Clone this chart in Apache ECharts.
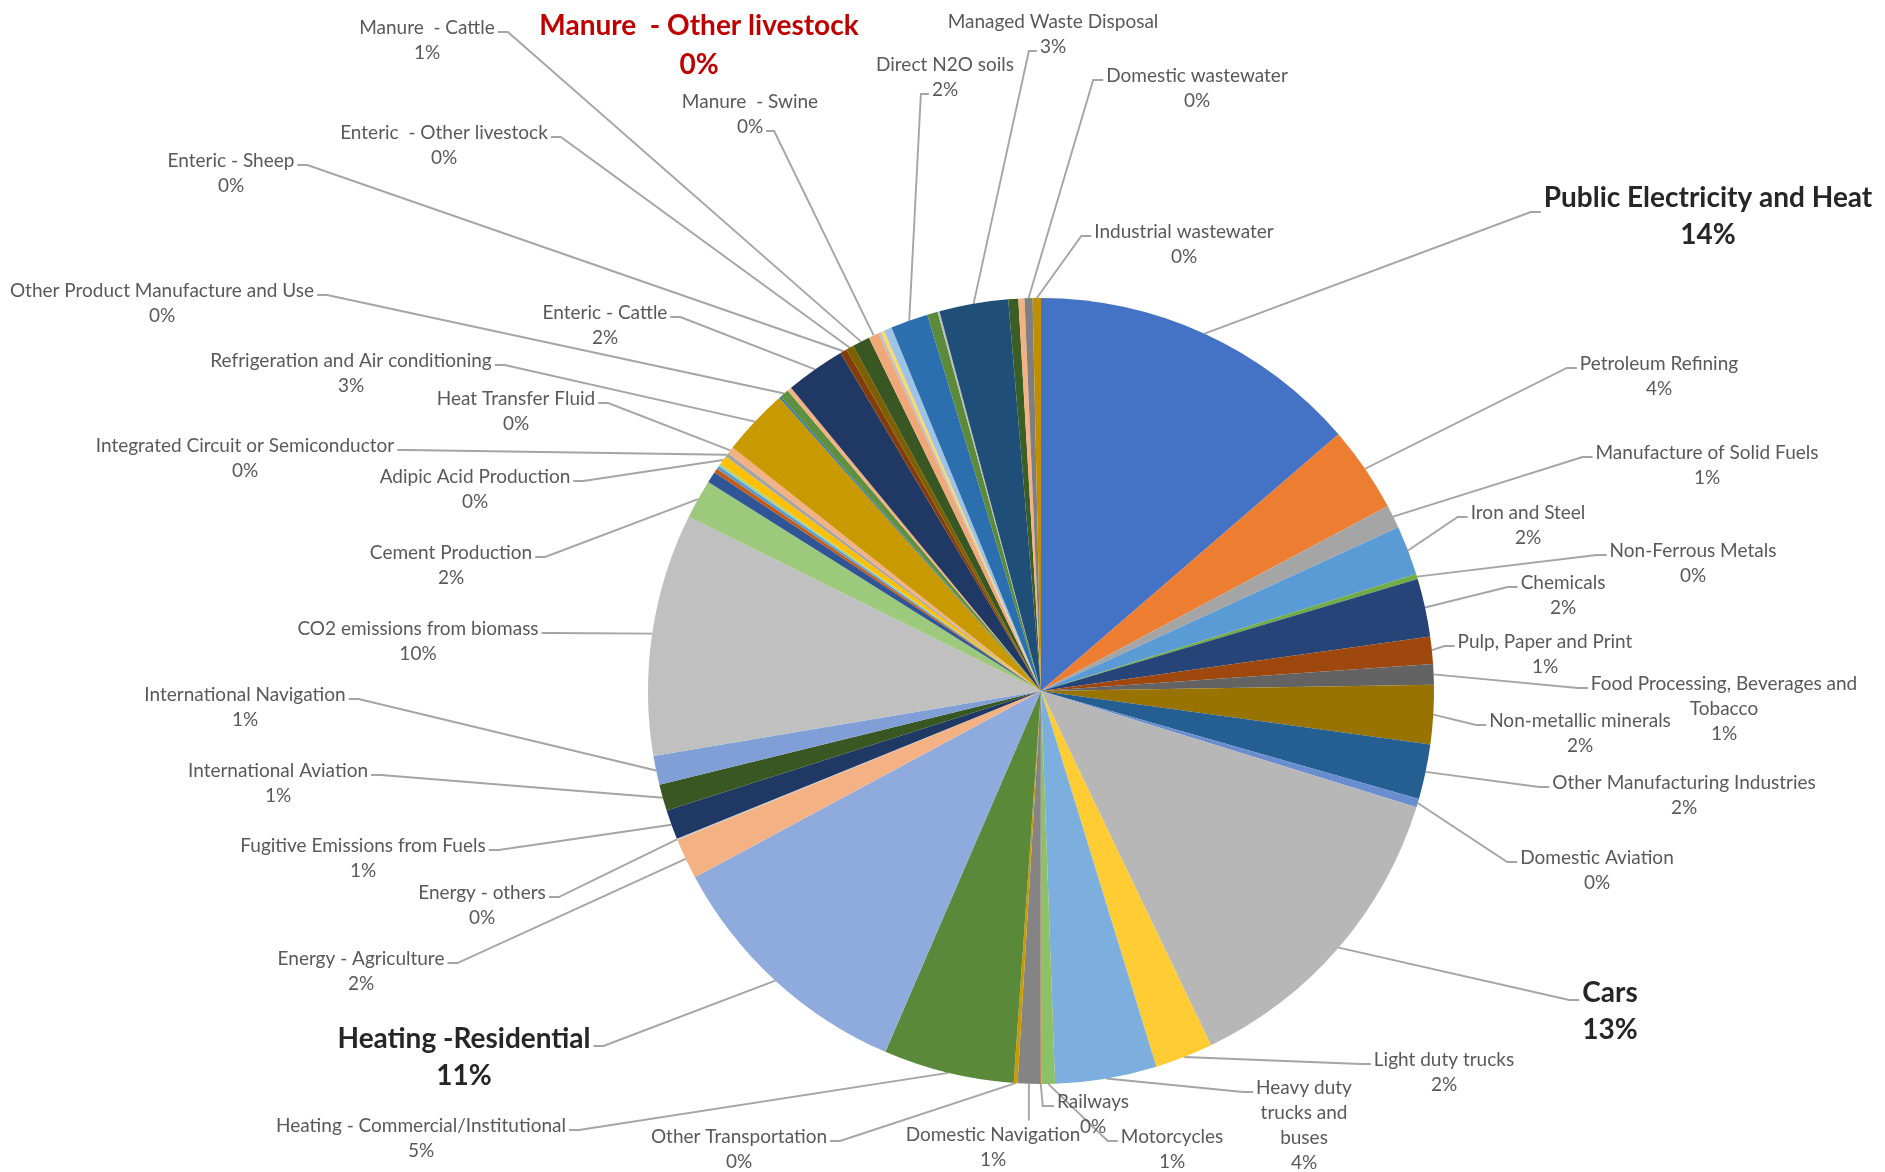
<!DOCTYPE html>
<html>
<head>
<meta charset="utf-8">
<script src="https://cdn.jsdelivr.net/npm/echarts@6/dist/echarts.min.js"></script>
<style>
  html, body { margin: 0; padding: 0; background: #ffffff; }
  #chart { width: 1885px; height: 1172px; }
</style>
</head>
<body>
<div id="chart"></div>
<script>
// Emission sources, clockwise from 12 o'clock. Empty names are small unlabeled slices.
const categories = [
  'Public Electricity and Heat', 'Petroleum Refining', 'Manufacture of Solid Fuels', 'Iron and Steel',
  'Non-Ferrous Metals', 'Chemicals', 'Pulp, Paper and Print', 'Food Processing, Beverages and Tobacco',
  'Non-metallic minerals', 'Other Manufacturing Industries', 'Domestic Aviation', 'Cars',
  'Light duty trucks', 'Heavy duty trucks and buses', 'Motorcycles', 'Railways',
  'Domestic Navigation', 'Other Transportation', 'Heating - Commercial/Institutional', 'Heating -Residential',
  'Energy - Agriculture', 'Energy - others', 'Fugitive Emissions from Fuels', 'International Aviation',
  'International Navigation', 'CO2 emissions from biomass', 'Cement Production',
  '', '', '', '',
  'Adipic Acid Production', 'Integrated Circuit or Semiconductor', 'Heat Transfer Fluid',
  'Refrigeration and Air conditioning', '', 'Other Product Manufacture and Use', '',
  'Enteric - Cattle', 'Enteric - Sheep', 'Enteric  - Other livestock', 'Manure  - Cattle',
  'Manure  - Swine', 'Manure  - Other livestock', '', '',
  'Direct N2O soils', '', '', 'Managed Waste Disposal',
  '', '', 'Domestic wastewater', 'Industrial wastewater'
];

// Share of total emissions, in percent
const shares = [
  13.66, 3.54, 0.96, 2.03,
  0.21, 2.38, 1.12, 0.84,
  2.43, 2.25, 0.35, 13.10,
  2.38, 4.17, 0.56, 0.04,
  0.92, 0.16, 5.37, 10.66,
  1.67, 0.05, 1.22, 1.08,
  1.19, 9.95, 1.62,
  0.47, 0.17, 0.14, 0.11,
  0.36, 0.17, 0.29,
  2.77, 0.08, 0.36, 0.18,
  2.45, 0.28, 0.31, 0.72,
  0.42, 0.11, 0.14, 0.33,
  1.54, 0.43, 0.08, 2.83,
  0.41, 0.25, 0.33, 0.34
];

const sliceColors = [
  '#4472C4', '#ED7D31', '#A5A5A5', '#5B9BD5',
  '#70AD47', '#264478', '#9E480E', '#636363',
  '#997300', '#255E91', '#698ED0', '#B7B7B7',
  '#FFCD33', '#7CAFDD', '#8CC168', '#D26012',
  '#848484', '#CC9A00', '#5A8A39', '#8FAADC',
  '#F4B183', '#C9C9C9', '#203864', '#385723',
  '#7F9FD6', '#C0C0C0', '#9DC97C',
  '#2F5597', '#C55A11', '#5B9BD5', '#A9D18E',
  '#FFC000', '#A5A5A5', '#F4B183',
  '#C99900', '#2E75B6', '#5E9040', '#F4B183',
  '#203864', '#843C0C', '#7F6000', '#385723',
  '#F1A878', '#BFBFBF', '#FFD966', '#9DC3E6',
  '#2C6FAE', '#5A8A3A', '#BFBFBF', '#1F4E79',
  '#3B5E24', '#F4B183', '#7F7F7F', '#BF8F00'
];

// Label text broken over several lines
const wrappedNames = {
  'Food Processing, Beverages and Tobacco': ['Food Processing, Beverages and', 'Tobacco'],
  'Heavy duty trucks and buses': ['Heavy duty', 'trucks and', 'buses']
};
const boldNames = ['Public Electricity and Heat', 'Cars', 'Heating -Residential'];
const redNames = ['Manure  - Other livestock'];

// Label placement: centre of the first text line (x, y), where the leader meets the text, extra drop of the meeting point
const labelSpots = {
  'Public Electricity and Heat': [1708, 198, 'L', 14],
  'Petroleum Refining': [1659, 364, 'L'],
  'Manufacture of Solid Fuels': [1707, 453, 'L'],
  'Iron and Steel': [1528, 513, 'L'],
  'Non-Ferrous Metals': [1693, 551, 'L'],
  'Chemicals': [1563, 583, 'L'],
  'Pulp, Paper and Print': [1545, 642, 'L'],
  'Food Processing, Beverages and Tobacco': [1724, 684, 'L'],
  'Non-metallic minerals': [1580, 721, 'L'],
  'Other Manufacturing Industries': [1684, 783, 'L'],
  'Domestic Aviation': [1597, 858, 'L'],
  'Cars': [1610, 993, 'L'],
  'Light duty trucks': [1444, 1060, 'L'],
  'Heavy duty trucks and buses': [1304, 1088, 'L'],
  'Motorcycles': [1172, 1137, 'L'],
  'Railways': [1093, 1102, 'E'],
  'Domestic Navigation': [993, 1135, 'T'],
  'Other Transportation': [739, 1137, 'R'],
  'Heating - Commercial/Institutional': [421, 1126, 'R'],
  'Heating -Residential': [464, 1039, 'R'],
  'Energy - Agriculture': [361, 959, 'R'],
  'Energy - others': [482, 893, 'R'],
  'Fugitive Emissions from Fuels': [363, 846, 'R'],
  'International Aviation': [278, 771, 'R'],
  'International Navigation': [245, 695, 'R'],
  'CO2 emissions from biomass': [418, 629, 'R'],
  'Cement Production': [451, 553, 'R'],
  'Adipic Acid Production': [475, 477, 'R'],
  'Integrated Circuit or Semiconductor': [245, 446, 'R'],
  'Heat Transfer Fluid': [516, 399, 'R'],
  'Refrigeration and Air conditioning': [351, 361, 'R'],
  'Other Product Manufacture and Use': [162, 291, 'R'],
  'Enteric - Cattle': [605, 313, 'R'],
  'Enteric - Sheep': [231, 161, 'R'],
  'Enteric  - Other livestock': [444, 133, 'R'],
  'Manure  - Cattle': [427, 28, 'R'],
  'Manure  - Other livestock': [699, 26, 'N'],
  'Manure  - Swine': [750, 102, 'PR'],
  'Direct N2O soils': [945, 65, 'PL'],
  'Managed Waste Disposal': [1053, 22, 'PL'],
  'Domestic wastewater': [1197, 76, 'L'],
  'Industrial wastewater': [1184, 232, 'L']
};

const PIE_CX = 1041, PIE_CY = 691, PIE_R = 393;
const FONT = 'Lato';
const textStyles = {
  n: { fontSize: 19, lineHeight: 25, fontWeight: 'normal', color: '#595959' },
  b: { fontSize: 28, lineHeight: 37, fontWeight: 'bold', color: '#262626' },
  r: { fontSize: 28, lineHeight: 39, fontWeight: 'bold', color: '#C00000' }
};

const total = shares.reduce((a, b) => a + b, 0);
const midShare = [];
{
  let acc = 0;
  shares.forEach(v => { midShare.push(acc + v / 2); acc += v; });
}

function styleKey(name) {
  if (redNames.includes(name)) return 'r';
  if (boldNames.includes(name)) return 'b';
  return 'n';
}
function pctText(i) {
  return Math.round(shares[i] / total * 100) + '%';
}
function nameLines(name) {
  return wrappedNames[name] || [name];
}

const measureCtx = document.createElement('canvas').getContext('2d');
function textWidth(str, key) {
  const s = textStyles[key];
  measureCtx.font = (s.fontWeight === 'bold' ? 'bold ' : '') + s.fontSize + 'px ' + FONT;
  return measureCtx.measureText(str).width;
}
function rimPoint(i) {
  const a = midShare[i] / total * Math.PI * 2;
  return [PIE_CX + PIE_R * Math.sin(a), PIE_CY - PIE_R * Math.cos(a)];
}

const seriesData = categories.map((name, i) => {
  const spot = labelSpots[name];
  return {
    name: name,
    value: shares[i],
    itemStyle: { color: sliceColors[i] },
    label: { show: !!spot },
    labelLine: { show: !!spot && spot[2] !== 'N' }
  };
});

const rich = {};
Object.keys(textStyles).forEach(k => {
  const s = textStyles[k];
  rich[k] = {
    fontFamily: FONT, fontSize: s.fontSize, lineHeight: s.lineHeight,
    fontWeight: s.fontWeight, color: s.color
  };
});

const chart = echarts.init(document.getElementById('chart'), null, { renderer: 'canvas' });
chart.setOption({
  animation: false,
  backgroundColor: '#ffffff',
  series: [{
    type: 'pie',
    center: [PIE_CX, PIE_CY],
    radius: PIE_R,
    startAngle: 90,
    clockwise: true,
    avoidLabelOverlap: false,
    minShowLabelAngle: 0,
    itemStyle: { borderWidth: 0 },
    emphasis: { disabled: true },
    label: {
      show: true,
      position: 'outside',
      formatter: p => {
        const k = styleKey(p.name);
        return nameLines(p.name).map(l => '{' + k + '|' + l + '}').join('\n') +
          '\n{' + k + '|' + pctText(p.dataIndex) + '}';
      },
      rich: rich
    },
    labelLine: {
      show: true,
      smooth: false,
      lineStyle: { color: '#A5A5A5', width: 1.9 }
    },
    labelLayout: params => {
      const i = params.dataIndex;
      const name = categories[i];
      const spot = labelSpots[name];
      if (!spot) return {};
      const k = styleKey(name);
      const st = textStyles[k];
      const [cx, cy, mode] = spot;
      const dy = spot[3] != null ? spot[3] : (k === 'n' ? 4 : 7);
      const lines = nameLines(name);
      const top = cy - st.lineHeight / 2;
      const out = { x: cx, y: top, align: 'center', verticalAlign: 'top' };
      if (mode === 'N') return out;
      const p0 = rimPoint(i);
      const wName = textWidth(lines[0], k);
      const pctY = cy + st.lineHeight * lines.length;
      const wPct = textWidth(pctText(i), k);
      let p1, p2;
      if (mode === 'L') {
        p2 = [cx - wName / 2 - 3, cy + dy];
        p1 = [p2[0] - 10, p2[1]];
      } else if (mode === 'R') {
        p2 = [cx + wName / 2 + 3, cy + dy];
        p1 = [p2[0] + 10, p2[1]];
      } else if (mode === 'PL') {
        p2 = [cx - wPct / 2 - 3, pctY + dy];
        p1 = [p2[0] - 8, p2[1]];
      } else if (mode === 'PR') {
        p2 = [cx + wPct / 2 + 3, pctY + dy];
        p1 = [p2[0] + 8, p2[1]];
      } else if (mode === 'T') {
        p2 = [p0[0], top - 2];
        p1 = p2.slice();
      } else {
        p2 = [cx - wName / 2 - 3, cy + dy];
        p1 = [p0[0] + 2, p2[1]];
      }
      out.labelLinePoints = [p0, p1, p2];
      return out;
    },
    data: seriesData
  }]
});
</script>
</body>
</html>
